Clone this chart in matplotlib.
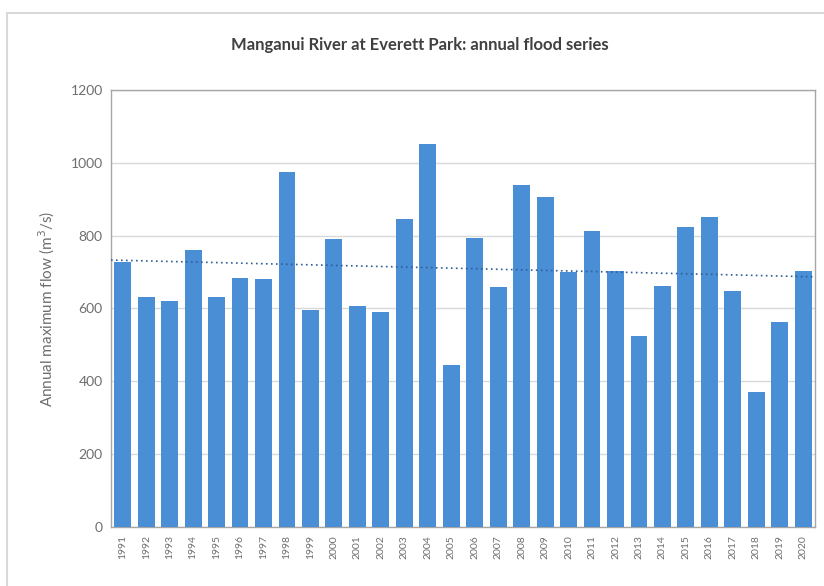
import numpy as np
import matplotlib as mpl
import matplotlib.pyplot as plt
from matplotlib.patches import Rectangle

mpl.rc('font', family=['Lato', 'DejaVu Sans'])

# annual maximum flow
years = list(range(1991, 2021))
flows = [728, 632, 620, 760, 632, 684, 681, 975, 596, 791,
         607, 590, 846, 1052, 445, 794, 659, 939, 906, 700,
         813, 703, 524, 662, 824, 851, 648, 371, 563, 703]
yticks = [0, 200, 400, 600, 800, 1000, 1200]

bar_color = '#4A8ED6'
grid_color = '#D9D9D9'
text_color = '#6E6E6E'

fig = plt.figure(figsize=(8.24, 5.86), dpi=100)
# chart-area border (runs off the right and bottom edges in the source)
fig.patches.append(Rectangle((0.0085, -0.05), 1.1, 1.028, transform=fig.transFigure,
                             fill=False, edgecolor='#D9D9D9', linewidth=1.5))

ax = fig.add_axes([0.1347, 0.1007, 0.8543, 0.7457])
x = np.arange(len(years))
ax.bar(x, flows, width=0.72, color=bar_color, zorder=3)

# linear trendline
coef = np.polyfit(x, flows, 1)
ax.plot([-0.5, len(years) - 0.5], np.polyval(coef, [-0.5, len(years) - 0.5]),
        linestyle=(0, (1, 2)), color='#2F5F98', linewidth=1.2, zorder=4)

ax.set_xlim(-0.5, len(years) - 0.5)
ax.set_ylim(0, 1200)
ax.set_yticks(yticks)
ax.set_yticklabels([str(v) for v in yticks], color=text_color, fontsize=10)
ax.set_xticks(x)
ax.set_xticklabels([str(y) for y in years], rotation=90, fontsize=7.5, color=text_color)
ax.tick_params(axis='both', length=0, pad=6)
ax.yaxis.grid(True, color=grid_color, linewidth=1.0, zorder=0)
for s in ax.spines.values():
    s.set_color('#A6A6A6')
    s.set_linewidth(1.0)

ax.set_ylabel('Annual maximum flow (m$^3$/s)', fontsize=11, color=text_color, labelpad=10)
fig.text(0.51, 0.923, 'Manganui River at Everett Park: annual flood series',
         ha='center', va='center', fontsize=12, color='#404040', fontweight='bold')

plt.savefig('out.png', dpi=100)
